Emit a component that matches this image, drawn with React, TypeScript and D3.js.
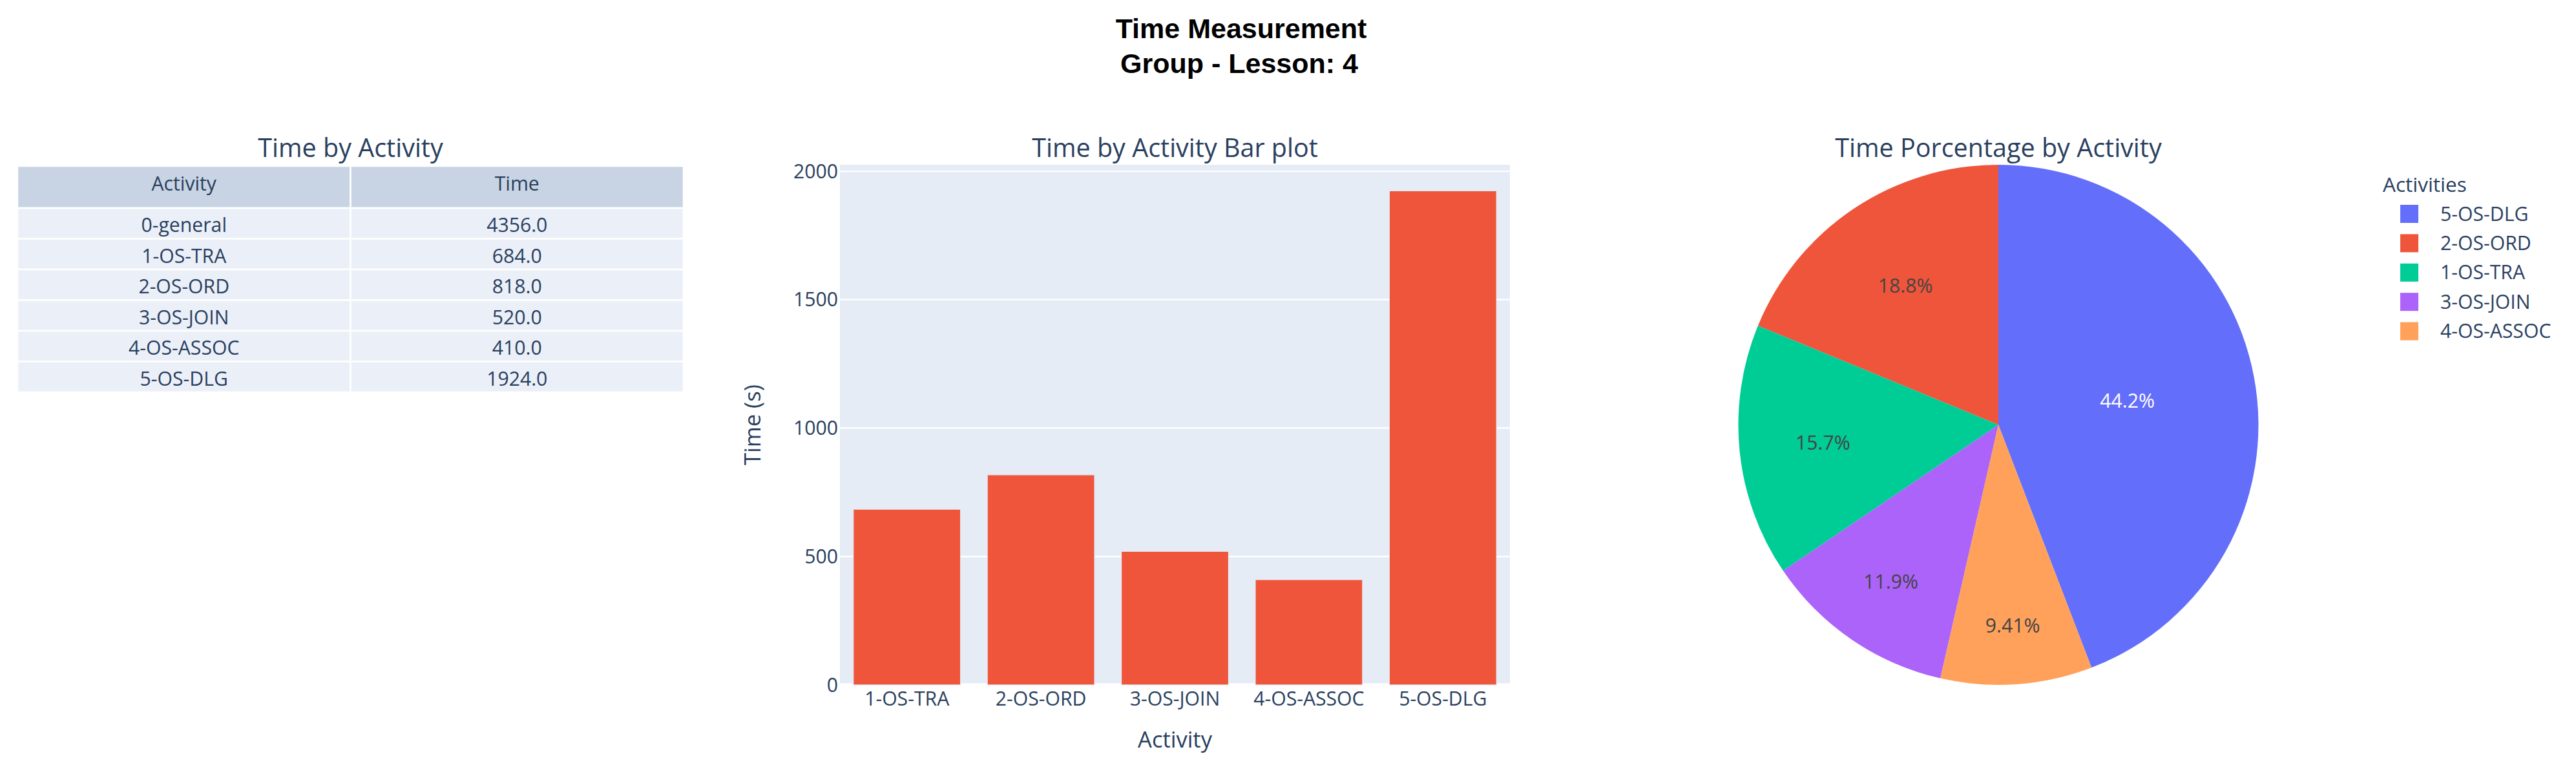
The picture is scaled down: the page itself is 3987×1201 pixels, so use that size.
import React, { useMemo } from 'react';
import * as d3 from 'd3';

// values
const tableHeaders = ['Activity', 'Time'];
const tableActivities = ['0-general', '1-OS-TRA', '2-OS-ORD', '3-OS-JOIN', '4-OS-ASSOC', '5-OS-DLG'];
const tableTimes = [4356, 684, 818, 520, 410, 1924];

const barActivities = ['1-OS-TRA', '2-OS-ORD', '3-OS-JOIN', '4-OS-ASSOC', '5-OS-DLG'];
const barTimes = [684, 818, 520, 410, 1924];
const yTicks = [0, 500, 1000, 1500, 2000];

const pieColors = ['#636EFA', '#EF553B', '#00CC96', '#AB63FA', '#FFA15A'];

// layout
const W = 3987;
const H = 1201;
const FONT = '"Open Sans", Verdana, Arial, sans-serif';
const INK = '#2a3f5f';
const TICK = 30.2;
const SUB = 39.5;

const SubTitle = ({ x, text }: { x: number; text: string }) => (
  <text x={x} y={243} textAnchor="middle" fontSize={SUB} fill={INK} fontFamily={FONT}>
    {text}
  </text>
);

const Table = () => {
  const x = d3.scaleBand().domain(tableHeaders).range([27, 1058]);
  const headerTop = 257;
  const headerH = 65;
  const rowH = 47.5;
  const y = d3
    .scaleBand()
    .domain(tableActivities)
    .range([headerTop + headerH, headerTop + headerH + rowH * tableActivities.length]);
  const fmt = d3.format('.1f');

  return (
    <g fontFamily={FONT} fontSize={TICK} fill={INK}>
      <SubTitle x={(27 + 1058) / 2} text="Time by Activity" />
      {tableHeaders.map((h) => (
        <g key={h}>
          <rect x={x(h)} y={headerTop} width={x.bandwidth()} height={headerH} fill="#C8D4E3" stroke="#fff" strokeWidth={2.5} />
          <text x={(x(h) as number) + x.bandwidth() / 2} y={headerTop + 38} textAnchor="middle">
            {h}
          </text>
        </g>
      ))}
      {tableActivities.map((a, i) => (
        <g key={a}>
          <rect x={x('Activity')} y={y(a)} width={x.bandwidth()} height={y.bandwidth()} fill="#EBF0F8" stroke="#fff" strokeWidth={2.5} />
          <rect x={x('Time')} y={y(a)} width={x.bandwidth()} height={y.bandwidth()} fill="#EBF0F8" stroke="#fff" strokeWidth={2.5} />
          <text x={(x('Activity') as number) + x.bandwidth() / 2} y={(y(a) as number) + 37} textAnchor="middle">
            {a}
          </text>
          <text x={(x('Time') as number) + x.bandwidth() / 2} y={(y(a) as number) + 37} textAnchor="middle">
            {fmt(tableTimes[i])}
          </text>
        </g>
      ))}
    </g>
  );
};

const BarPlot = () => {
  const left = 1300;
  const right = 2337;
  const top = 255;
  const bottom = 1060;

  const x = d3.scaleBand().domain(barActivities).range([left, right]).paddingInner(0.2).paddingOuter(0.1);
  // plotly pads the autorange by about 5%
  const y = d3.scaleLinear().domain([0, d3.max(barTimes)! * 1.0527]).range([bottom, top]);

  return (
    <g fontFamily={FONT} fill={INK}>
      <SubTitle x={(left + right) / 2} text="Time by Activity Bar plot" />
      <rect x={left} y={top} width={right - left} height={bottom - top} fill="#E5ECF6" />
      {yTicks.map((t) => (
        <g key={t}>
          <line x1={left} x2={right} y1={y(t)} y2={y(t)} stroke="#fff" strokeWidth={t === 0 ? 4.8 : 2.4} />
          <text x={left - 3} y={y(t) + 10.5} textAnchor="end" fontSize={TICK}>
            {t}
          </text>
        </g>
      ))}
      {barActivities.map((a, i) => (
        <rect
          key={a}
          x={x(a)}
          y={y(barTimes[i])}
          width={x.bandwidth()}
          height={y(0) - y(barTimes[i])}
          fill="#EF553B"
          stroke="#E5ECF6"
          strokeWidth={1.2}
        />
      ))}
      {barActivities.map((a) => (
        <text key={a} x={(x(a) as number) + x.bandwidth() / 2} y={1092} textAnchor="middle" fontSize={TICK}>
          {a}
        </text>
      ))}
      <text x={(left + right) / 2} y={1157} textAnchor="middle" fontSize={34.5}>
        Activity
      </text>
      <text
        transform={`translate(1177, ${(top + bottom) / 2}) rotate(-90)`}
        textAnchor="middle"
        fontSize={34.5}
      >
        Time (s)
      </text>
    </g>
  );
};

const PiePlot = () => {
  const cx = 3093;
  const cy = 657.5;
  const r = 402.5;

  // sorted descending like plotly does
  const slices = useMemo(() => {
    const order = d3.range(barActivities.length).sort((a, b) => barTimes[b] - barTimes[a]);
    const data = order.map((idx, rank) => ({
      label: barActivities[idx],
      value: barTimes[idx],
      color: pieColors[rank],
    }));
    const total = d3.sum(data, (d) => d.value);
    // counterclockwise: first slice ends at 12 o'clock, the rest go counterclockwise from there
    const first = (data[0].value / total) * 2 * Math.PI;
    const arcs = d3
      .pie<(typeof data)[0]>()
      .value((d) => d.value)
      .sort(null)
      .startAngle(first)
      .endAngle(first - 2 * Math.PI)(data);
    return { arcs, total, data };
  }, []);

  const arc = d3.arc<d3.PieArcDatum<any>>().innerRadius(0).outerRadius(r);
  const pct = d3.format('.3p');

  return (
    <g fontFamily={FONT}>
      <SubTitle x={cx} text="Time Porcentage by Activity" />
      <g transform={`translate(${cx}, ${cy})`}>
        {slices.arcs.map((s) => (
          <path key={s.data.label} d={arc(s) as string} fill={s.data.color} />
        ))}
        {slices.arcs.map((s, i) => {
          const half = Math.abs(s.endAngle - s.startAngle) / 2;
          const mid = (s.startAngle + s.endAngle) / 2;
          const inscribed = Math.min(1 / (1 + 1 / Math.sin(half)), 0.5);
          const rc = r * (1 - inscribed);
          return (
            <text
              key={s.data.label}
              x={rc * Math.sin(mid)}
              y={-rc * Math.cos(mid)}
              dy="0.35em"
              textAnchor="middle"
              fontSize={TICK}
              fill={i === 0 ? '#fff' : '#444'}
            >
              {pct(s.data.value / slices.total)}
            </text>
          );
        })}
      </g>
      <g fill={INK}>
        <text x={3688} y={297} fontSize={31.5}>
          Activities
        </text>
        {slices.data.map((d, i) => (
          <g key={d.label} transform={`translate(0, ${331 + i * 45.4})`}>
            <rect x={3715} y={-14} width={28} height={28} fill={d.color} />
            <text x={3777} y={10.5} fontSize={TICK}>
              {d.label}
            </text>
          </g>
        ))}
      </g>
    </g>
  );
};

export default function App() {
  return (
    <svg
      width={W}
      height={H}
      style={{ position: 'absolute', left: 0, top: 0, background: '#fff' }}
    >
      <rect width={W} height={H} fill="#fff" />
      <g fontFamily='Arial, "Liberation Sans", sans-serif' fontWeight="bold" fontSize={43} textAnchor="middle" fill="#000">
        <text x={1921} y={59}>
          Time Measurement
        </text>
        <text x={1918} y={113}>
          Group - Lesson: 4
        </text>
      </g>
      <Table />
      <BarPlot />
      <PiePlot />
    </svg>
  );
}
